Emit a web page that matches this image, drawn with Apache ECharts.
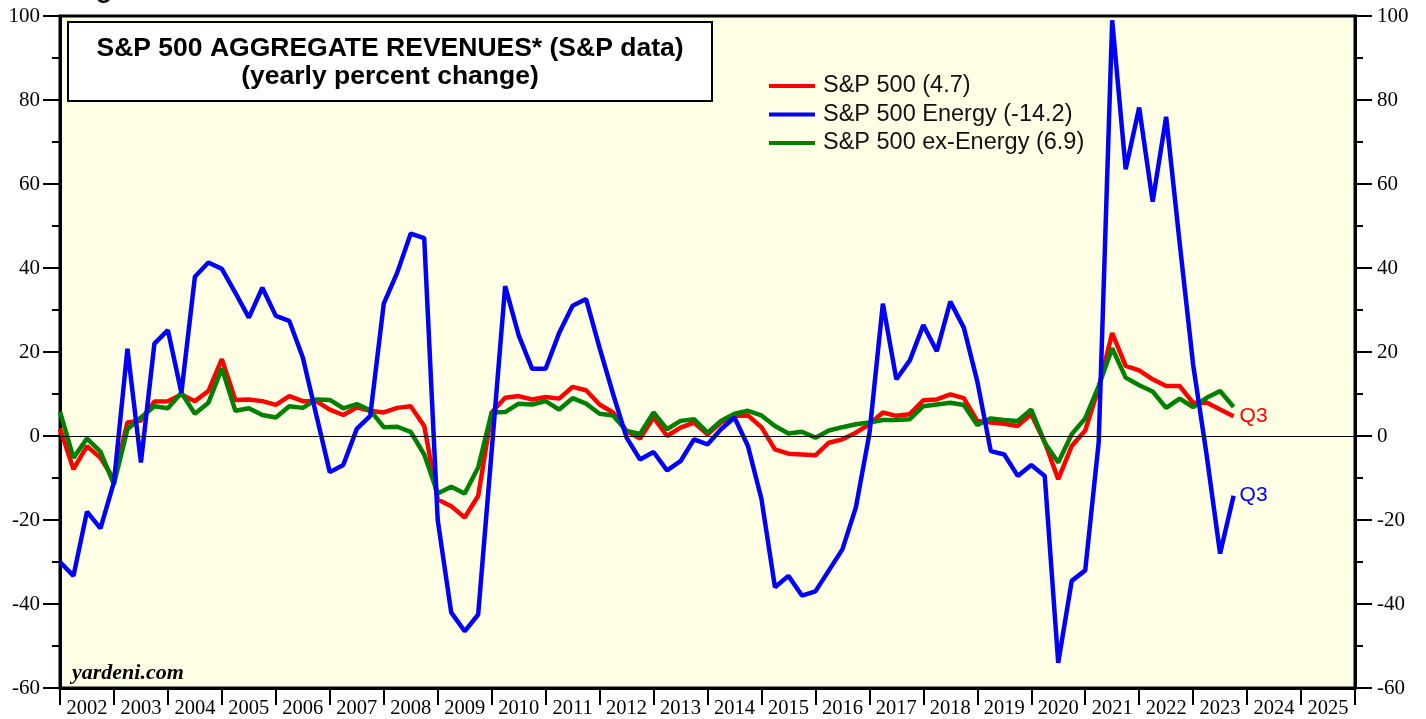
<!DOCTYPE html>
<html>
<head>
<meta charset="utf-8">
<script src="https://cdn.jsdelivr.net/npm/echarts@6/dist/echarts.min.js"></script>
<style>
  html, body { margin: 0; padding: 0; background: #fff; }
  #chart { width: 1426px; height: 719px; }
</style>
</head>
<body>
<div id="chart"></div>
<script>
// quarterly data, first point is Q4 2001 (plotted at quarter end)
const startYear = 2001
const startQuarter = 4

const spx = [
  1.8, -7.9, -2.4, -5.2, -10.3, 3.2, 3.7, 8.2, 8.3, 9.9,
  8.3, 10.7, 18.3, 8.6, 8.7, 8.3, 7.4, 9.5, 8.3, 8.3,
  6.3, 5.0, 6.8, 6.0, 5.6, 6.7, 7.1, 2.4, -15.1, -16.7,
  -19.4, -14.3, 5.6, 9.1, 9.5, 8.7, 9.3, 8.9, 11.7, 10.9,
  7.5, 5.6, 1.2, -0.6, 4.4, 0.0, 2.0, 3.2, 0.4, 3.2,
  4.8, 4.9, 2.1, -3.2, -4.2, -4.4, -4.6, -1.6, -0.8, 0.8,
  2.8, 5.6, 4.8, 5.2, 8.5, 8.7, 9.9, 9.0, 3.6, 3.2,
  2.9, 2.4, 5.2, -1.5, -10.3, -2.4, 1.3, 11.5, 24.5, 16.7,
  15.6, 13.5, 11.9, 11.9, 7.9, 8.0, 6.3, 4.7
]

const energy = [
  -30.0, -33.3, -18.0, -22.0, -11.0, 20.8, -6.3, 22.0, 25.2, 10.3,
  37.9, 41.3, 39.8, 34.1, 28.2, 35.3, 28.6, 27.4, 18.7, 5.0,
  -8.6, -6.9, 1.7, 4.8, 31.5, 38.9, 48.2, 47.1, -20.0, -42.0,
  -46.5, -42.5, -3.5, 35.7, 24.0, 16.0, 16.0, 24.5, 31.0, 32.6,
  21.0, 10.0, -0.4, -5.6, -3.8, -8.2, -6.0, -0.8, -2.0, 1.6,
  4.4, -2.4, -15.0, -36.0, -33.3, -38.0, -37.0, -32.0, -27.0, -17.0,
  0.5, 31.5, 13.5, 18.0, 26.4, 20.2, 32.0, 25.8, 13.0, -3.6,
  -4.4, -9.5, -6.9, -9.5, -54.0, -34.5, -32.0, -1.5, 99.0, 63.5,
  78.2, 55.8, 76.0, 46.0, 17.0, -4.5, -28.0, -14.2
]

const exEnergy = [
  5.8, -5.2, -0.6, -3.7, -11.5, 1.6, 4.4, 7.1, 6.6, 10.3,
  5.3, 7.9, 16.1, 6.0, 6.6, 5.0, 4.4, 7.1, 6.7, 8.7,
  8.6, 6.6, 7.6, 6.1, 2.1, 2.2, 1.0, -4.4, -13.7, -12.1,
  -13.7, -7.5, 5.6, 5.7, 7.7, 7.5, 8.3, 6.3, 9.0, 7.7,
  5.3, 4.9, 1.2, 0.5, 5.6, 1.6, 3.6, 4.0, 0.8, 3.6,
  5.3, 6.0, 4.9, 2.4, 0.6, 1.0, -0.4, 1.3, 2.1, 2.8,
  3.2, 3.8, 3.8, 4.0, 7.1, 7.5, 7.9, 7.4, 2.6, 4.2,
  3.8, 3.6, 6.3, -1.6, -6.3, 0.4, 4.2, 11.9, 20.9, 13.9,
  12.1, 10.6, 6.7, 8.9, 6.9, 9.1, 10.7, 6.9
]

const yearLabels = [
  '2002', '2003', '2004', '2005', '2006', '2007', '2008', '2009',
  '2010', '2011', '2012', '2013', '2014', '2015', '2016', '2017',
  '2018', '2019', '2020', '2021', '2022', '2023', '2024', '2025'
]

const names = ['S&P 500 (4.7)', 'S&P 500 Energy (-14.2)', 'S&P 500 ex-Energy (6.9)']

const toPoints = vals => vals.map((v, i) => [startYear + (startQuarter + i) / 4, v])

const serif = '"Liberation Serif", "Times New Roman", serif'
const sans = '"Liberation Sans", Arial, sans-serif'

const chart = echarts.init(document.getElementById('chart'))

const yAxisBase = {
  type: 'value',
  min: -60,
  max: 100,
  interval: 20,
  axisLine: { show: true, onZero: false, lineStyle: { color: '#000', width: 3 } },
  axisTick: { show: true, length: 17, lineStyle: { color: '#000', width: 2 } },
  minorTick: { show: true, splitNumber: 2, length: 8, lineStyle: { color: '#000', width: 2 } },
  splitLine: { show: false },
  axisLabel: { color: '#000', fontSize: 21, fontFamily: serif }
}

const option = {
  animation: false,
  backgroundColor: '#fff',
  grid: {
    left: 60, right: 71, top: 16, bottom: 31,
    show: true,
    backgroundColor: '#ffffe5',
    borderColor: '#000',
    borderWidth: 3
  },
  legend: {
    orient: 'vertical',
    left: 764,
    top: 69,
    icon: 'rect',
    itemWidth: 46,
    itemHeight: 4,
    itemGap: 4.5,
    data: names,
    textStyle: { color: '#111', fontSize: 23.5, fontFamily: sans, lineHeight: 22, padding: [0, 0, 0, 3] }
  },
  xAxis: [
    {
      type: 'value',
      min: 2002,
      max: 2026,
      interval: 1,
      axisLine: { show: true, onZero: false, lineStyle: { color: '#000', width: 3 } },
      axisTick: { show: true, length: 17, lineStyle: { color: '#000', width: 2 } },
      axisLabel: { show: false },
      splitLine: { show: false }
    },
    {
      type: 'category',
      position: 'bottom',
      data: yearLabels,
      boundaryGap: true,
      axisLine: { show: false, onZero: false },
      axisTick: { show: false },
      axisLabel: { color: '#000', fontSize: 20.5, fontFamily: serif, margin: 10, interval: 0 }
    }
  ],
  yAxis: [
    Object.assign({}, yAxisBase, { position: 'left', axisLabel: Object.assign({}, yAxisBase.axisLabel, { margin: 20 }) }),
    Object.assign({}, yAxisBase, { position: 'right', axisLabel: Object.assign({}, yAxisBase.axisLabel, { margin: 22 }) })
  ],
  series: [
    {
      name: names[0],
      type: 'line',
      data: toPoints(spx),
      showSymbol: false,
      lineStyle: { color: '#ff0000', width: 4.5 },
      itemStyle: { color: '#ff0000' },
      endLabel: { show: true, formatter: 'Q3', color: '#ff0000', fontSize: 21, fontFamily: sans, distance: 6 },
      markLine: {
        silent: true,
        symbol: 'none',
        label: { show: false },
        lineStyle: { color: '#000', width: 1, type: 'solid' },
        data: [{ yAxis: 0 }]
      }
    },
    {
      name: names[2],
      type: 'line',
      data: toPoints(exEnergy),
      showSymbol: false,
      lineStyle: { color: '#008000', width: 4.5 },
      itemStyle: { color: '#008000' }
    },
    {
      name: names[1],
      type: 'line',
      data: toPoints(energy),
      showSymbol: false,
      lineStyle: { color: '#0000ff', width: 4.5 },
      itemStyle: { color: '#0000ff' },
      endLabel: { show: true, formatter: 'Q3', color: '#0000ff', fontSize: 21, fontFamily: sans, distance: 6 }
    }
  ],
  graphic: [
    {
      type: 'rect',
      shape: { x: 68, y: 22, width: 644, height: 79 },
      style: { fill: '#fff', stroke: '#000', lineWidth: 2 },
      z: 10
    },
    {
      type: 'text',
      x: 390, y: 49,
      style: { text: 'S&P 500 AGGREGATE REVENUES* (S&P data)', fill: '#000', font: 'bold 26.5px ' + sans, align: 'center', verticalAlign: 'middle' },
      z: 11
    },
    {
      type: 'text',
      x: 390, y: 77,
      style: { text: '(yearly percent change)', fill: '#000', font: 'bold 26.5px ' + sans, align: 'center', verticalAlign: 'middle' },
      z: 11
    },
    {
      type: 'text',
      x: 72, y: 662,
      style: { text: 'yardeni.com', fill: '#000', font: 'italic bold 22px ' + serif, align: 'left', verticalAlign: 'top' },
      z: 11
    },
    {
      type: 'text',
      x: 96, y: 4,
      style: { text: 'g', fill: '#000', font: 'bold 26px ' + sans, align: 'left', verticalAlign: 'bottom' },
      z: 11
    }
  ]
}

chart.setOption(option)
window.addEventListener('resize', () => chart.resize())
</script>
</body>
</html>
